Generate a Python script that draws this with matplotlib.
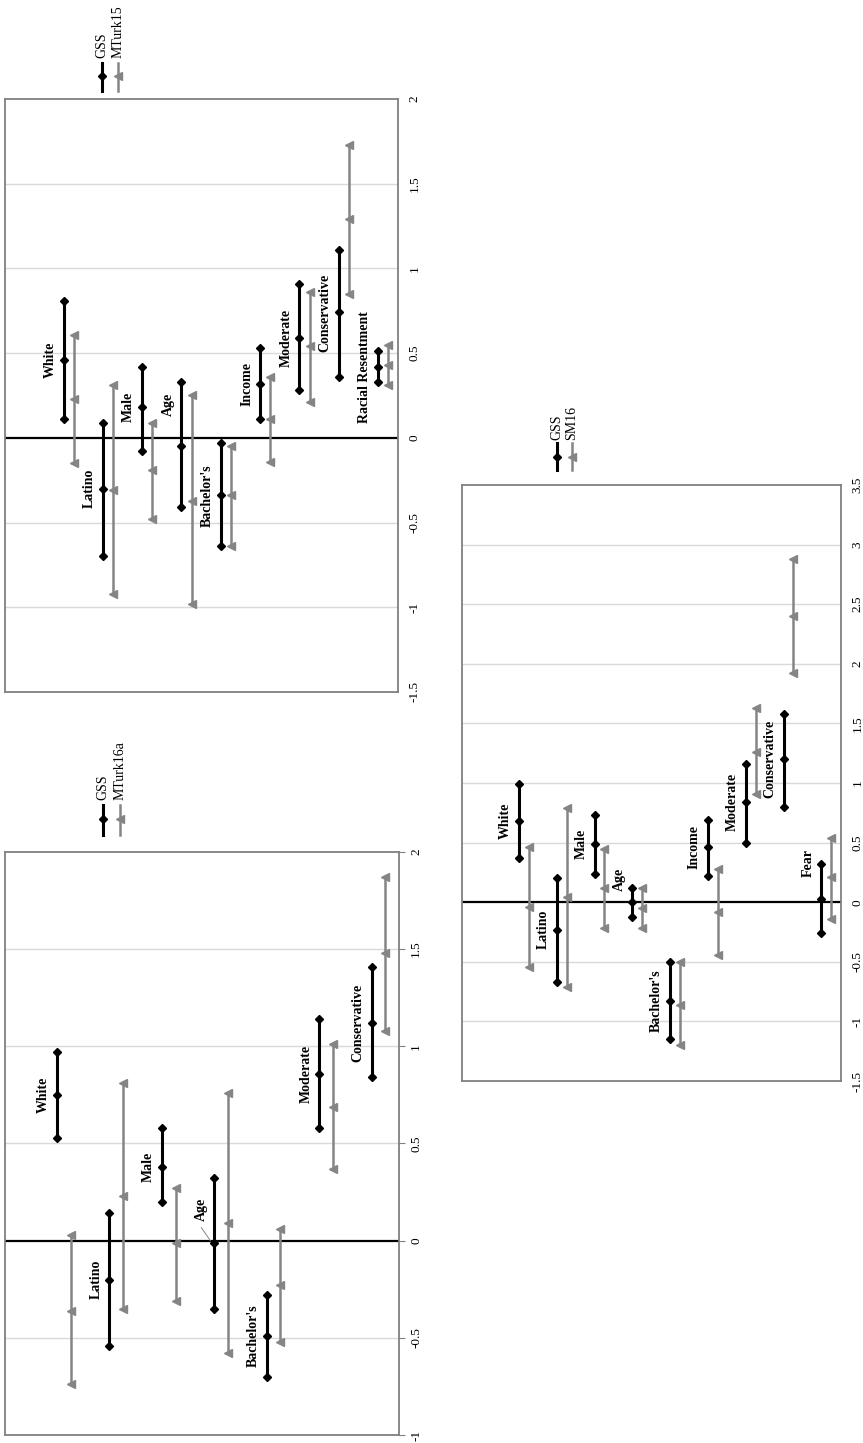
import matplotlib
matplotlib.use("Agg")
import matplotlib.pyplot as plt
from matplotlib.lines import Line2D
from matplotlib.transforms import ScaledTranslation
from matplotlib.ticker import FuncFormatter, MultipleLocator

plt.rcParams['font.family'] = ['Liberation Serif', 'DejaVu Serif']

# ---------------- data ----------------
# Panel A: GSS vs MTurk15
cats_a = ["White", "Latino", "Male", "Age", "Bachelor's", "Income", "Moderate",
          "Conservative", "Racial Resentment"]
gss_a_mean = [0.46, -0.30, 0.18, -0.05, -0.34, 0.32, 0.59, 0.74, 0.42]
gss_a_low = [0.11, -0.70, -0.08, -0.41, -0.64, 0.11, 0.28, 0.36, 0.33]
gss_a_high = [0.81, 0.09, 0.42, 0.33, -0.03, 0.53, 0.91, 1.11, 0.51]
alt_a_mean = [0.23, -0.31, -0.19, -0.37, -0.34, 0.11, 0.54, 1.29, 0.43]
alt_a_low = [-0.15, -0.92, -0.48, -0.98, -0.64, -0.14, 0.21, 0.85, 0.31]
alt_a_high = [0.61, 0.31, 0.09, 0.25, -0.05, 0.36, 0.86, 1.73, 0.55]

# Panel B: GSS vs MTurk16a
cats_b = ["White", "Latino", "Male", "Age", "Bachelor's", "Moderate", "Conservative"]
gss_b_mean = [0.75, -0.20, 0.38, -0.01, -0.49, 0.86, 1.12]
gss_b_low = [0.53, -0.54, 0.20, -0.35, -0.70, 0.58, 0.84]
gss_b_high = [0.97, 0.14, 0.58, 0.32, -0.28, 1.14, 1.41]
alt_b_mean = [-0.36, 0.23, -0.01, 0.09, -0.23, 0.69, 1.48]
alt_b_low = [-0.74, -0.35, -0.31, -0.58, -0.52, 0.37, 1.08]
alt_b_high = [0.03, 0.81, 0.27, 0.76, 0.06, 1.01, 1.87]

# Panel C: GSS vs SM16
cats_c = ["White", "Latino", "Male", "Age", "Bachelor's", "Income", "Moderate",
          "Conservative", "Fear"]
gss_c_mean = [0.68, -0.23, 0.49, 0.00, -0.83, 0.46, 0.84, 1.20, 0.03]
gss_c_low = [0.37, -0.67, 0.24, -0.12, -1.15, 0.22, 0.50, 0.80, -0.26]
gss_c_high = [0.99, 0.20, 0.73, 0.12, -0.50, 0.69, 1.16, 1.58, 0.32]
alt_c_mean = [-0.04, 0.04, 0.12, -0.05, -0.86, -0.08, 1.26, 2.40, 0.21]
alt_c_low = [-0.54, -0.71, -0.22, -0.22, -1.20, -0.44, 0.91, 1.92, -0.14]
alt_c_high = [0.46, 0.79, 0.45, 0.12, -0.50, 0.28, 1.63, 2.88, 0.54]

series_names = ["GSS", "MTurk15", "MTurk16a", "SM16"]

# label anchor overrides (value-axis position of label centre)
label_over_a = {"Age": 0.20}
label_over_b = {"Age": 0.16}
label_over_c = {"Age": 0.19, "Fear": 0.33}

# ---------------- style ----------------
W, H = 863, 1443
BLACK = "#000000"
GRAY = "#858585"
GRID = "#d9d9d9"
SPINE = "#808080"

fig = plt.figure(figsize=(W / 100, H / 100), dpi=100)
fig.patch.set_facecolor("white")


def fx(px):
    return px / W


def fy(py):
    return 1 - py / H


def make_axes(x0, y0, x1, y1, xlim, ylim, ticks_out=False):
    ax = fig.add_axes([fx(x0), fy(y1), fx(x1) - fx(x0), (y1 - y0) / H])
    ax.set_xlim(*xlim)
    ax.set_ylim(*ylim)
    ax.set_xticks([])
    ax.yaxis.tick_right()
    ax.yaxis.set_major_locator(MultipleLocator(0.5))
    ax.yaxis.set_major_formatter(FuncFormatter(lambda v, p: f"{v:g}"))
    ax.tick_params(axis="y", labelrotation=90, labelsize=9.5,
                   length=4 if ticks_out else 0, color=SPINE,
                   pad=4 if ticks_out else 7.5)
    for lab in ax.get_yticklabels():
        lab.set_va("center")
    for s in ax.spines.values():
        s.set_color(SPINE)
        s.set_linewidth(1.3)
    v = ylim[0] + 0.5
    while v < ylim[1] - 1e-9:
        if abs(v) > 1e-9:
            ax.axhline(v, color=GRID, lw=1.0, zorder=0)
        v += 0.5
    ax.axhline(0, color=BLACK, lw=1.6, zorder=1)
    return ax


def draw_series(ax, cats, gm, gl, gh, am, al, ah, overrides, off=0.13, label_pt=5):
    lab_tr = ax.transData + ScaledTranslation(-label_pt / 72, 0, fig.dpi_scale_trans)
    for i, c in enumerate(cats):
        xg = i - off
        xa = i + off
        ax.plot([xg, xg], [gl[i], gh[i]], color=BLACK, lw=2.2, zorder=3,
                solid_capstyle="butt")
        ax.plot([xg] * 3, [gl[i], gm[i], gh[i]], ls="none", marker="D",
                ms=4.5, color=BLACK, zorder=4)
        ax.plot([xa, xa], [al[i], ah[i]], color=GRAY, lw=1.8, zorder=2,
                solid_capstyle="butt")
        ax.plot([xa] * 3, [al[i], am[i], ah[i]], ls="none", marker="<",
                ms=6, color=GRAY, zorder=2)
        ly = overrides.get(c, gm[i])
        ax.text(xg, ly, c, transform=lab_tr, rotation=90, ha="right",
                va="center", fontsize=10, fontweight="bold", zorder=5)


def legend(x_g, x_a, y_top, y_bot, y_mark, y_text, name):
    for x, col, mk, lw, ms in [(x_g, BLACK, "D", 2.2, 4.5), (x_a, GRAY, "<", 1.8, 6)]:
        fig.add_artist(Line2D([fx(x), fx(x)], [fy(y_bot), fy(y_top)], color=col, lw=lw))
        fig.add_artist(Line2D([fx(x)], [fy(y_mark)], marker=mk, ms=ms, color=col, ls="none"))
    fig.text(fx(x_g), fy(y_text), "GSS", rotation=90, ha="center", va="bottom", fontsize=10)
    fig.text(fx(x_a), fy(y_text), name, rotation=90, ha="center", va="bottom", fontsize=10)


# Panel A (top left)
axA = make_axes(5, 99, 398, 692, (-1.62, 8.38), (-1.5, 2.0))
draw_series(axA, cats_a, gss_a_mean, gss_a_low, gss_a_high,
            alt_a_mean, alt_a_low, alt_a_high, label_over_a)
legend(102, 118, 63, 91, 76, 58, series_names[1])

# Panel B (bottom left)
axB = make_axes(5, 852, 399, 1435, (-1.12, 6.39), (-1.0, 2.0), ticks_out=True)
draw_series(axB, cats_b, gss_b_mean, gss_b_low, gss_b_high,
            alt_b_mean, alt_b_low, alt_b_high, label_over_b)
# leader line for Age label
iage = cats_b.index("Age")
xg_px, yg_px = axB.transData.transform((iage - 0.13, gss_b_mean[iage]))
fig.add_artist(Line2D([fx(xg_px - 13), fx(xg_px - 4)],
                      [fy(H - yg_px - 15), fy(H - yg_px - 2)],
                      color=GRAY, lw=0.7))
legend(103, 120, 805, 835, 819, 800, series_names[2])

# Panel C (right)
axC = make_axes(462, 485, 841, 1081, (-1.64, 8.39), (-1.5, 3.5))
draw_series(axC, cats_c, gss_c_mean, gss_c_low, gss_c_high,
            alt_c_mean, alt_c_low, alt_c_high, label_over_c)
legend(557, 572, 443, 470, 457, 440, series_names[3])

fig.savefig("out.png", dpi=100, facecolor="white")
